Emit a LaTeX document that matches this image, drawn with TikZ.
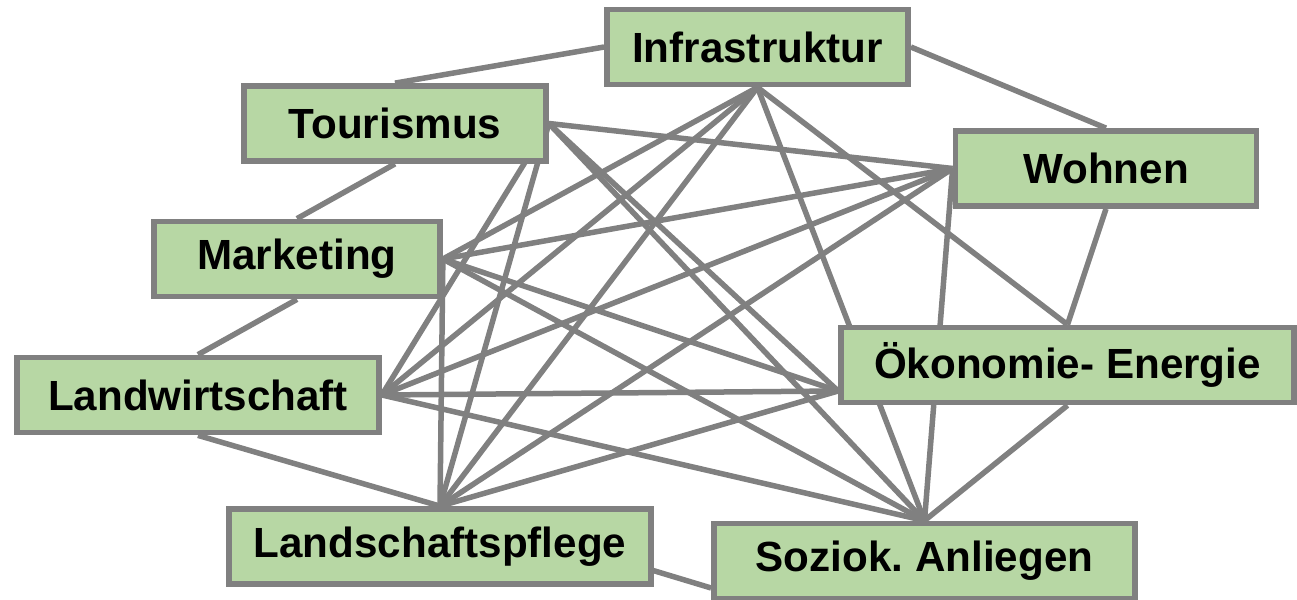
\documentclass[tikz,border=0pt]{standalone}
\usepackage{fontspec}
\setmainfont{Liberation Sans}
\usepackage{tikz}
\usetikzlibrary{backgrounds}
\definecolor{topicgreen}{RGB}{183,215,164}
\definecolor{linkgray}{RGB}{128,128,128}
\frenchspacing

\begin{document}
\begin{tikzpicture}[
  x=0.2mm, y=-0.2mm,
  font=\bfseries\fontsize{24}{28}\selectfont,
  topic/.style={draw=linkgray, line width=1.15mm, fill=topicgreen,
                inner sep=0pt, minimum height=15mm, align=center},
  link/.style={draw=linkgray, line width=1.1mm}
]
\useasboundingbox (0,0) rectangle (1297,600);

% ===== topics =====
\node[topic, minimum width=60.2mm] (infra) at (757.5,47)  {Infrastruktur};
\node[topic, minimum width=60.4mm] (tour)  at (395,123.5) {Tourismus};
\node[topic, minimum width=60.2mm] (wohn)  at (1106,168.5) {Wohnen};
\node[topic, minimum width=57.2mm] (mark)  at (297,259)   {Marketing};
\node[topic, minimum width=72.4mm] (land)  at (198,395)   {Landwirtschaft};
\node[topic, minimum width=90.6mm] (oeko)  at (1067.5,365) {Ökonomie- Energie};
\node[topic, minimum width=84.4mm] (pfl)   at (440,546.5) {Landschaftspflege};
\node[topic, minimum width=84.2mm] (soz)   at (924.5,561) {Soziok. Anliegen};

% hubs off the middle of a side
\coordinate (oekohub) at ([yshift=-5.2mm]oeko.west);
\coordinate (sozhub)  at ([yshift=-5.4mm]soz.west);

\begin{pgfonlayer}{background}
% outer ring
\draw[link] (infra.west) -- (tour.north);
\draw[link] (tour.south) -- (mark.north);
\draw[link] (mark.south) -- (land.north);
\draw[link] (land.south) -- (pfl.north);
\draw[link] (pfl.north) -- (sozhub);
\draw[link] (soz.north) -- (oeko.south);
\draw[link] (oeko.north) -- (wohn.south);
\draw[link] (wohn.north) -- (infra.east);

% Infrastruktur
\draw[link] (infra.south) -- (mark.east);
\draw[link] (infra.south) -- (land.east);
\draw[link] (infra.south) -- (pfl.north);
\draw[link] (infra.south) -- (oeko.north);
\draw[link] (infra.south) -- (soz.north);

% Tourismus
\draw[link] (tour.east) -- (wohn.west);
\draw[link] (tour.east) -- (oekohub);
\draw[link] (tour.east) -- (soz.north);
\draw[link] (tour.east) -- (land.east);
\draw[link] (tour.east) -- (pfl.north);

% Wohnen
\draw[link] (wohn.west) -- (mark.east);
\draw[link] (wohn.west) -- (land.east);
\draw[link] (wohn.west) -- (pfl.north);
\draw[link] (wohn.west) -- (soz.north);

% Marketing
\draw[link] (mark.east) -- (pfl.north);
\draw[link] (mark.east) -- (oekohub);
\draw[link] (mark.east) -- (soz.north);

% Landwirtschaft
\draw[link] (land.east) -- (oekohub);
\draw[link] (land.east) -- (soz.north);

% Oekonomie - Landschaftspflege
\draw[link] (oekohub) -- (pfl.north);
\end{pgfonlayer}

\end{tikzpicture}
\end{document}
